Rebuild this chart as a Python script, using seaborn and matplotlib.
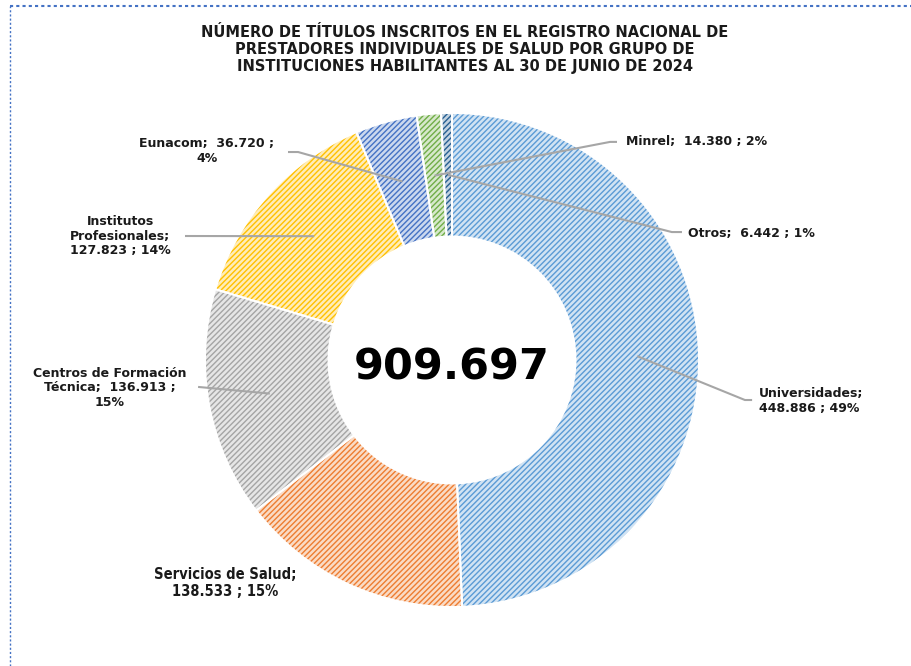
import matplotlib
matplotlib.use("Agg")
import numpy as np
import matplotlib.pyplot as plt
from matplotlib.lines import Line2D
import seaborn as sns

# datos
categorias = ["Universidades", "Servicios de Salud", "Centros de Formación Técnica",
              "Institutos Profesionales", "Eunacom", "Minrel", "Otros"]
valores = [448886, 138533, 136913, 127823, 36720, 14380, 6442]
colores_base = ["#5B9BD5", "#ED7D31", "#A5A5A5", "#FFC000", "#4472C4", "#70AD47", "#255E91"]
titulo = ("NÚMERO DE TÍTULOS INSCRITOS EN EL REGISTRO NACIONAL DE\n"
          "PRESTADORES INDIVIDUALES DE SALUD POR GRUPO DE\n"
          "INSTITUCIONES HABILITANTES AL 30 DE JUNIO DE 2024")

# formato de cada etiqueta (saltos de línea como en Excel)
formatos = ["Universidades;\n{v} ; {p}%",
            "Servicios de Salud;\n{v} ; {p}%",
            "Centros de Formación\nTécnica;  {v} ;\n{p}%",
            "Institutos\nProfesionales;\n{v} ; {p}%",
            "Eunacom;  {v} ;\n{p}%",
            "Minrel;  {v} ; {p}%",
            "Otros;  {v} ; {p}%"]
# posición del texto, alineación, codo y fin de la línea guía (None = sin línea)
pos_texto = [(1.243, -0.166), (-0.919, -0.903), (-1.385, -0.113), (-1.344, 0.502),
             (-0.992, 0.846), (0.704, 0.883), (0.955, 0.514)]
alineacion = ["left", "center", "center", "center", "center", "left", "left"]
guia = [[(1.186, -0.162), (1.215, -0.162)],
        None,
        [(-1.028, -0.109)],
        [(-1.081, 0.502)],
        [(-0.623, 0.842), (-0.664, 0.842)],
        [(0.64, 0.883), (0.668, 0.883)],
        [(0.89, 0.518), (0.931, 0.518)]]
fuente_narrow = [False, True, False, False, False, False, False]


def fmt_miles(v):
    return f"{v:,}".replace(",", ".")


def aclarar(c, f=0.72):
    r, g, b = matplotlib.colors.to_rgb(c)
    return (r + (1 - r) * f, g + (1 - g) * f, b + (1 - b) * f)


sns.set_theme(style="white")
plt.rcParams["font.family"] = ["DejaVu Sans"]
plt.rcParams["hatch.linewidth"] = 1.0

colores = sns.color_palette(colores_base)
total = sum(valores)

fig = plt.figure(figsize=(9.11, 6.66), dpi=100)
ax = fig.add_axes([0, 0, 1, 1])

# anillo con trama diagonal
cuñas, _ = ax.pie(valores, startangle=90, counterclock=False, radius=1,
                  wedgeprops=dict(width=0.5, linewidth=0))
for w, c in zip(cuñas, colores):
    w.set_facecolor(aclarar(c))
    w.set_edgecolor(c)
    w.set_hatch("//////")
# separadores blancos
ax.pie(valores, startangle=90, counterclock=False, radius=1,
       wedgeprops=dict(width=0.5, facecolor="none", edgecolor="white", linewidth=1.4))

# etiquetas y líneas guía
for i, w in enumerate(cuñas):
    ang = np.deg2rad((w.theta1 + w.theta2) / 2)
    ancla = (0.75 * np.cos(ang), 0.75 * np.sin(ang))
    if guia[i] is not None:
        pts = [ancla] + guia[i]
        ax.plot([p[0] for p in pts], [p[1] for p in pts], color="#A6A6A6", lw=1.5,
                solid_capstyle="butt", zorder=3)
    pct = round(valores[i] / total * 100)
    txt = formatos[i].format(v=fmt_miles(valores[i]), p=pct)
    if fuente_narrow[i]:
        extra = dict(fontsize=10.5, fontstretch="condensed")
    else:
        extra = dict(fontsize=9)
    ax.text(pos_texto[i][0], pos_texto[i][1], txt, ha=alineacion[i], va="center",
            multialignment="center" if alineacion[i] == "center" else "left",
            fontweight="bold", color="#1a1a1a", linespacing=1.15, **extra)

# total al centro
ax.text(0, -0.03, fmt_miles(total), ha="center", va="center",
        fontsize=31, fontweight="bold", color="black")

ax.set_aspect("auto")
ax.set_xlim(-452 / 247, (911 - 452) / 247)
ax.set_ylim(-(666 - 360) / 247, 360 / 247)
ax.axis("off")

# título
fig.text(465 / 911, 1 - 25 / 666, titulo, ha="center", va="top", fontsize=10.5,
         fontweight="bold", color="#1a1a1a", linespacing=1.15)

# borde punteado del área del gráfico
fig.add_artist(Line2D([10 / 911, 1], [1 - 6 / 666, 1 - 6 / 666], color="#4472C4",
                      lw=1.5, ls=(0, (1.5, 1.5)), transform=fig.transFigure))
fig.add_artist(Line2D([10 / 911, 10 / 911], [0, 1 - 6 / 666], color="#4472C4",
                      lw=1.0, ls=(0, (1.5, 1.5)), transform=fig.transFigure))

fig.savefig("out.png", dpi=100)
